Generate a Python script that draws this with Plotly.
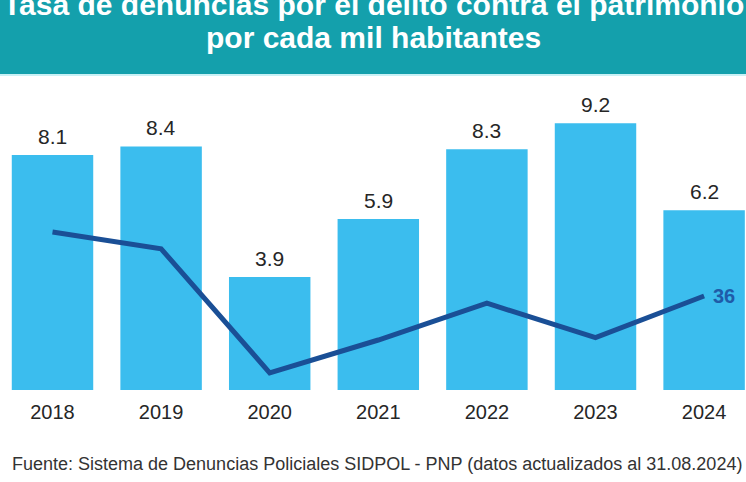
import plotly.graph_objects as go

years = ["2018", "2019", "2020", "2021", "2022", "2023", "2024"]
tasa = [8.1, 8.4, 3.9, 5.9, 8.3, 9.2, 6.2]
linea = [44.0, 41.9, 26.4, 30.5, 35.1, 30.8, 36.0]
ultimo_label = "36"
titulo1 = "Tasa de denuncias por el delito contra el patrimonio"
titulo2 = "por cada mil habitantes"
fuente = "Fuente: Sistema de Denuncias Policiales SIDPOL - PNP (datos actualizados al 31.08.2024)"

W, H = 746, 482
T, B = 80, 92
PH = H - T - B

def py(p):
    return (H - B - p) / PH

fig = go.Figure()
fig.add_trace(go.Bar(x=list(range(len(years))), y=tasa, marker=dict(color="#3bbdee", line=dict(width=0)),
                     hoverinfo="skip"))
fig.add_trace(go.Scatter(x=list(range(len(years))), y=linea, yaxis="y2", mode="lines",
                         line=dict(color="#1a4f96", width=5), hoverinfo="skip"))

ann = []
for i, v in enumerate(tasa):
    ann.append(dict(x=i, y=v, xref="x", yref="y", text=f"{v:.1f}", showarrow=False,
                    yanchor="bottom", yshift=5,
                    font=dict(family="Liberation Sans, Arial", size=21, color="#262626")))
ann.append(dict(x=len(years) - 1, y=linea[-1], xref="x", yref="y2", text=ultimo_label, showarrow=False,
                xanchor="left", yanchor="middle", xshift=7,
                font=dict(family="Liberation Sans, Arial", size=20, color="#1f5ba8", weight="bold")))
ann.append(dict(x=0.5, y=py(4), xref="paper", yref="paper", text=titulo1, showarrow=False,
                xanchor="center", yanchor="middle",
                font=dict(family="Liberation Sans, Arial", size=30, color="white", weight="bold")))
ann.append(dict(x=0.5, y=py(37), xref="paper", yref="paper", text=titulo2, showarrow=False,
                xanchor="center", yanchor="middle",
                font=dict(family="Liberation Sans, Arial", size=30, color="white", weight="bold")))
ann.append(dict(x=10 / W, y=py(464), xref="paper", yref="paper", text=fuente, showarrow=False,
                xanchor="left", yanchor="middle",
                font=dict(family="Liberation Sans, Arial", size=18, color="#333333")))

shapes = [
    dict(type="rect", xref="paper", yref="paper", x0=0, x1=1, y0=py(74), y1=py(-5),
         fillcolor="#14a0ac", line=dict(width=0), layer="below"),
    dict(type="rect", xref="paper", yref="paper", x0=0, x1=1, y0=py(76), y1=py(74),
         fillcolor="#c9f1f5", line=dict(width=0), layer="below"),
]

step = 108.6
x0 = -52.5 / step
x1 = (W - 52.5) / step

fig.update_layout(
    width=W, height=H,
    margin=dict(l=0, r=0, t=T, b=B, pad=0),
    paper_bgcolor="white", plot_bgcolor="white",
    showlegend=False, bargap=0.25,
    xaxis=dict(range=[x0, x1], tickmode="array", tickvals=list(range(len(years))), ticktext=years,
               showgrid=False, zeroline=False, showline=False, ticks="",
               tickfont=dict(family="Liberation Sans, Arial", size=20, color="#262626"),
               ticklabelstandoff=8),
    yaxis=dict(range=[0, PH / 29.0], visible=False, showgrid=False, zeroline=False),
    yaxis2=dict(range=[36 - 94 / 8, 36 + (PH - 94) / 8], overlaying="y", visible=False,
                showgrid=False, zeroline=False),
    annotations=ann, shapes=shapes,
)

fig.write_html("out.html", config={"displayModeBar": False})
with open("out.html", "r", encoding="utf-8") as f:
    html = f.read()
html = html.replace("<head>", "<head><style>html,body{margin:0;padding:0;overflow:hidden;}</style>", 1)
with open("out.html", "w", encoding="utf-8") as f:
    f.write(html)
